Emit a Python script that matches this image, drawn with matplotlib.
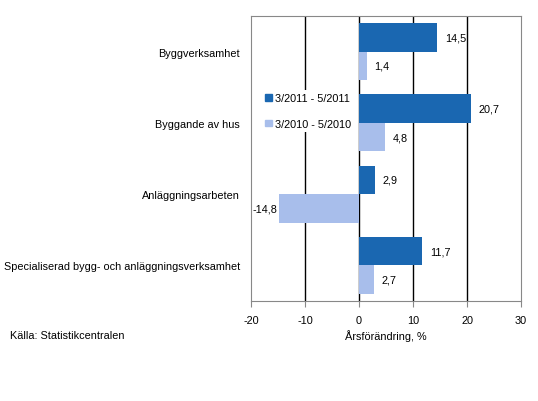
import numpy as np
import matplotlib.pyplot as plt
from matplotlib import rcParams
from matplotlib.patches import Patch

rcParams['font.family'] = ['Liberation Sans', 'DejaVu Sans']
rcParams['font.size'] = 7.8

categories = ['Byggverksamhet', 'Byggande av hus', 'Anläggningsarbeten',
              'Specialiserad bygg- och anläggningsverksamhet']
series_names = ['3/2011 - 5/2011', '3/2010 - 5/2010']
vals_2011 = [14.5, 20.7, 2.9, 11.7]
vals_2010 = [1.4, 4.8, -14.8, 2.7]
xticks = [-20, -10, 0, 10, 20, 30]

dark = '#1A67B1'
light = '#A8BEEB'

fig = plt.figure(figsize=(5.38, 4.02), dpi=100)
ax = fig.add_axes([251/538, 1-302/402, 270/538, 285/402])

n = len(categories)
y = np.arange(n)
h = 0.4
ax.barh(y - h/2, vals_2011, height=h, color=dark, zorder=3)
ax.barh(y + h/2, vals_2010, height=h, color=light, zorder=3)

# value labels, decimal comma
for yi, v in zip(y - h/2, vals_2011):
    ax.text(v + 1.4 if v >= 0 else v - 0.4, yi, f'{v:.1f}'.replace('.', ','),
            va='center', ha='left' if v >= 0 else 'right', zorder=4)
for yi, v in zip(y + h/2, vals_2010):
    ax.text(v + 1.4 if v >= 0 else v - 0.3, yi, f'{v:.1f}'.replace('.', ','),
            va='center', ha='left' if v >= 0 else 'right', zorder=4)

ax.set_ylim(n - 0.5, -0.5)
ax.set_xlim(-20, 30)
ax.set_xticks(xticks)
ax.set_xticklabels([str(t) for t in xticks])
ax.set_yticks(y)
ax.set_yticklabels(categories)
ax.tick_params(axis='y', length=0, pad=8)
ax.tick_params(axis='x', direction='out', length=4, color='#888888', pad=6)

for t in [-10, 0, 10, 20]:
    ax.axvline(t, color='black', linewidth=1, zorder=1)
for s in ax.spines.values():
    s.set_color('#888888')

ax.set_xlabel('Årsförändring, %', labelpad=3)

handles = [Patch(color=dark), Patch(color=light)]
leg = ax.legend(handles, series_names, loc='upper left',
                bbox_to_anchor=(0.02, 0.76), frameon=True, handlelength=0.6,
                handleheight=0.6, handletextpad=0.3, labelspacing=1.45,
                borderpad=0.3)
leg.get_frame().set_edgecolor('none')
leg.get_frame().set_facecolor('white')
leg.get_frame().set_alpha(1)
leg.set_zorder(5)

fig.text(10/538, 1-336/402, 'Källa: Statistikcentralen',
         va='center', ha='left')

fig.savefig('out.png', dpi=100)
